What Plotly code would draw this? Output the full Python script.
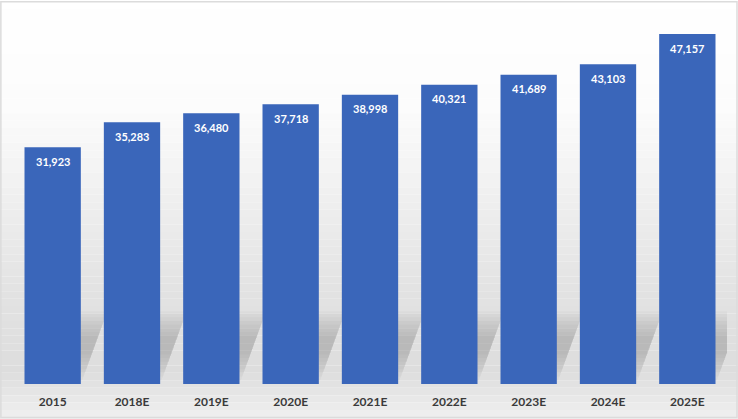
import plotly.graph_objects as go

categories = ["2015", "2018E", "2019E", "2020E", "2021E", "2022E", "2023E", "2024E", "2025E"]
values = [31923, 35283, 36480, 37718, 38998, 40321, 41689, 43103, 47157]
value_labels = ["31,923", "35,283", "36,480", "37,718", "38,998", "40,321", "41,689", "43,103", "47,157"]

x_idx = list(range(len(categories)))
BAR_W = 0.71
SHADOW_H = 10000
SHADOW_DX = 0.34

fig = go.Figure()
fig.add_trace(go.Bar(
    x=x_idx, y=values, width=BAR_W,
    marker=dict(color="#3A66BA", line=dict(width=0)),
    hoverinfo="skip",
))

shapes = []
# background gradient (paper coords)
stops = [(0.0, (255, 255, 255)), (0.25, (252, 252, 252)), (0.45, (240, 240, 240)),
         (0.65, (227, 227, 227)), (0.85, (221, 221, 221)), (0.92, (234, 234, 234)),
         (1.0, (247, 247, 247))]
N = 60
for k in range(N):
    t0 = k / N
    t1 = (k + 1) / N
    tm = (t0 + t1) / 2
    for j in range(len(stops) - 1):
        if stops[j][0] <= tm <= stops[j + 1][0]:
            a, ca = stops[j]
            b, cb = stops[j + 1]
            f = (tm - a) / (b - a)
            c = tuple(int(round(ca[i] + (cb[i] - ca[i]) * f)) for i in range(3))
            break
    shapes.append(dict(type="rect", xref="paper", yref="paper",
                       x0=-0.05, x1=1.05, y0=1.05 - t1 * 1.2, y1=1.05 - t0 * 1.2,
                       fillcolor="rgb(%d,%d,%d)" % c, line=dict(width=0), layer="below"))

# soft perspective shadows behind bars
bands = [(0.05, 0.98), (0.1, 0.95), (0.15, 0.9), (0.2, 0.85), (0.25, 0.8),
         (0.3, 0.75), (0.35, 0.7), (0.4, 0.65)]
for i in x_idx:
    L = i - BAR_W / 2
    R = i + BAR_W / 2
    for (f0, f1) in bands:
        y0 = SHADOW_H * f0
        y1 = SHADOW_H * f1
        o0 = SHADOW_DX * f0
        o1 = SHADOW_DX * f1
        path = "M %f,%f L %f,%f L %f,%f L %f,%f Z" % (L + o0, y0, R + o0, y0, R + o1, y1, L + o1, y1)
        shapes.append(dict(type="path", xref="x", yref="y", path=path,
                           fillcolor="rgba(120,120,120,0.055)", line=dict(width=0), layer="below"))

# outer frame
shapes.append(dict(type="rect", xref="paper", yref="paper", x0=-0.017, x1=1.014, y0=-0.09, y1=1.03,
                   line=dict(color="#dcdcdc", width=1.5), layer="above"))

annotations = []
for i, v, lab in zip(x_idx, values, value_labels):
    annotations.append(dict(x=i, y=v, xref="x", yref="y", text=lab, showarrow=False,
                            yanchor="middle", yshift=-14,
                            font=dict(family="Lato, Open Sans, sans-serif", size=11, color="white", weight="bold")))

fig.update_layout(
    width=738, height=419,
    margin=dict(l=13, r=11, t=13, b=35),
    paper_bgcolor="white",
    plot_bgcolor="rgba(0,0,0,0)",
    showlegend=False,
    bargap=0.29,
    shapes=shapes,
    annotations=annotations,
    xaxis=dict(range=[-0.5, len(categories) - 0.5], tickvals=x_idx, ticktext=categories,
               showgrid=False, zeroline=False, showline=False, ticks="",
               ticklabelstandoff=9,
               tickfont=dict(family="Lato, Open Sans, sans-serif", size=12, color="#3a3a3a", weight="bold")),
    yaxis=dict(range=[0, 50000], visible=False, showgrid=False, zeroline=False),
)

fig.write_html("out.html")
